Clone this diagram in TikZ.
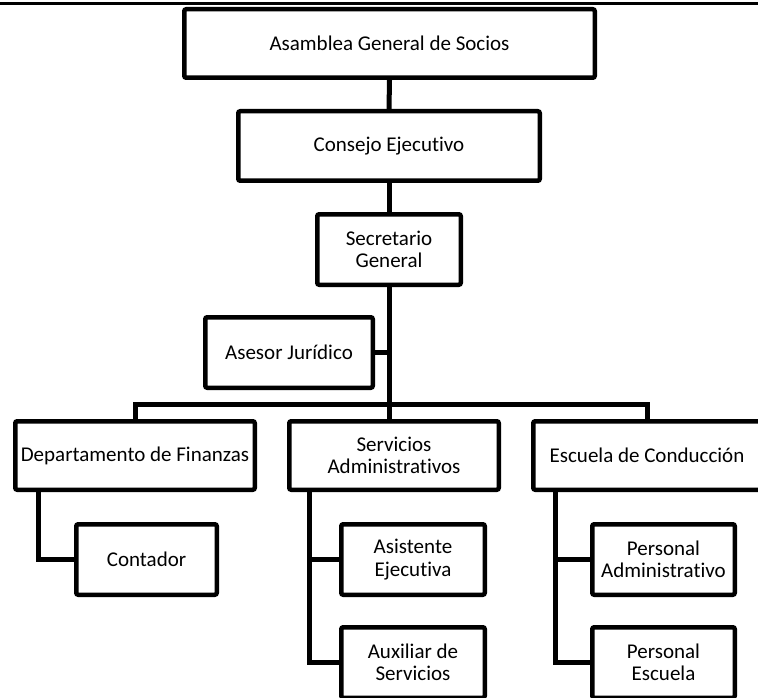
\documentclass[tikz,border=0pt]{standalone}
\usepackage{fontspec}
\setmainfont{Carlito}[Ligatures=NoCommon]
\begin{document}
\begin{tikzpicture}[x=1pt,y=-1pt,
  orgbox/.style={draw=black, line width=4.5pt, rounded corners=2pt, fill=white,
    inner sep=0pt, align=center, font=\fontsize{21}{22.5}\selectfont},
  conn/.style={draw=black, line width=5pt}]
\useasboundingbox (0,0) rectangle (758,698);
\draw[line width=2.5pt] (0,3.5) -- (758,3.5);
% nodes (centre, size = outer minus border)
\node[orgbox, minimum width=410.5pt, minimum height=68.5pt] (asam) at (389.5,43.5) {Asamblea General de Socios};
\node[orgbox, minimum width=301.5pt, minimum height=69.5pt] (cons) at (389,146) {Consejo Ejecutivo};
\node[orgbox, minimum width=143.5pt, minimum height=70.5pt] (sec) at (389,249.5) {Secretario\\General};
\node[orgbox, minimum width=167.5pt, minimum height=70.5pt] (ases) at (289,352.5) {Asesor Jurídico};
\node[orgbox, minimum width=239.5pt, minimum height=68.5pt] (depto) at (135,455.5) {Departamento de Finanzas};
\node[orgbox, minimum width=209.5pt, minimum height=68.5pt] (serv) at (394,455.5) {Servicios\\Administrativos};
\node[orgbox, minimum width=227.5pt, minimum height=68.5pt] (esc) at (647,455.5) {Escuela de Conducción};
\node[orgbox, minimum width=140.5pt, minimum height=70.5pt] (cont) at (146.5,559.5) {Contador};
\node[orgbox, minimum width=143.5pt, minimum height=70.5pt] (ae) at (413,559.5) {Asistente\\Ejecutiva};
\node[orgbox, minimum width=143.5pt, minimum height=70.5pt] (aux) at (413,662.5) {Auxiliar de\\Servicios};
\node[orgbox, minimum width=142.5pt, minimum height=70.5pt] (pa) at (663.5,559.5) {Personal\\Administrativo};
\node[orgbox, minimum width=142.5pt, minimum height=70.5pt] (pe) at (663.5,662.5) {Personal\\Escuela};
% coordinates
\coordinate (bar) at (389,404);
\coordinate (dv) at (38,492);
\coordinate (sv) at (309,492);
\coordinate (ev) at (555,492);
% connectors
\draw[conn] (asam.south) -- (cons.north);
\draw[conn] (cons.south) -- (sec.north);
\draw[conn] (sec.south) -- (sec.south |- serv.north);
\draw[conn] (ases.east) -- (ases.east -| sec.south);
\draw[conn] (depto.north) |- (bar) -| (esc.north);
\draw[conn] (dv) |- (cont.west);
\draw[conn] (sv) |- (aux.west);
\draw[conn] (ae.west) -- (ae.west -| sv);
\draw[conn] (ev) |- (pe.west);
\draw[conn] (pa.west) -- (pa.west -| ev);
\end{tikzpicture}
\end{document}
